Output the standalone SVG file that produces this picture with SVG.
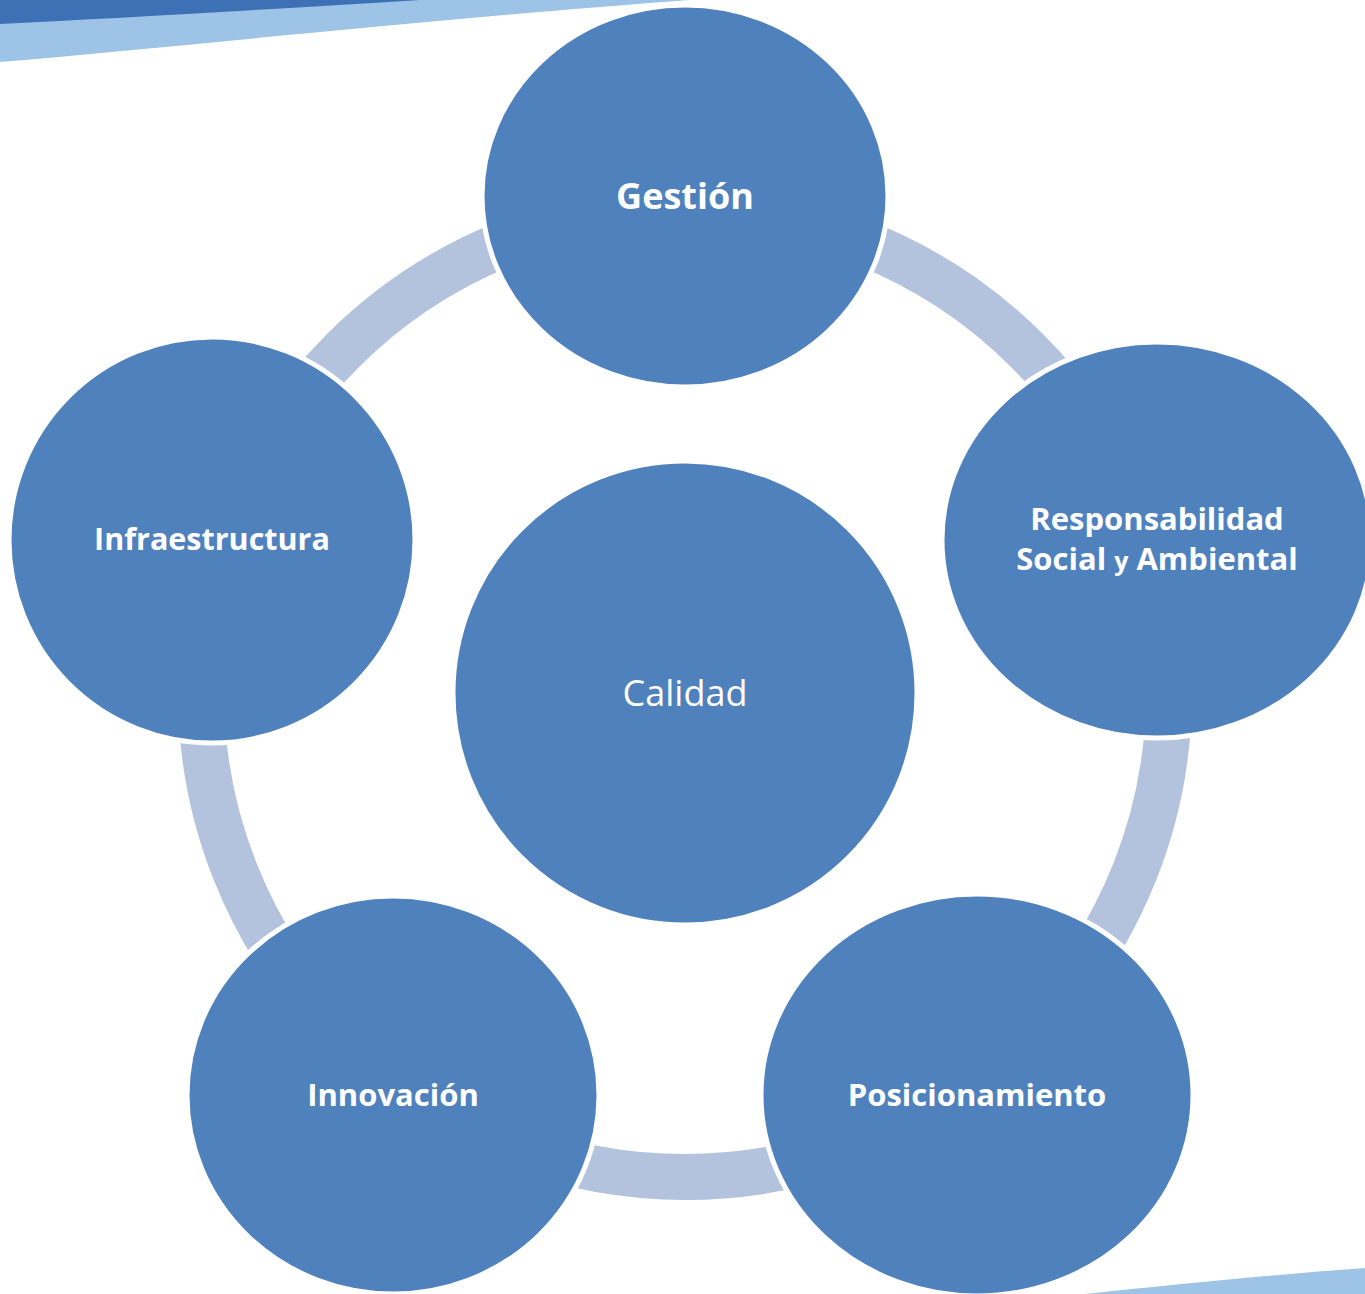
<svg xmlns="http://www.w3.org/2000/svg" width="1365" height="1294" viewBox="0 0 1365 1294">
<style>
.node{fill:#4F81BD;stroke:#FFFFFF;stroke-width:5}
.lbl{fill:#FFFFFF;font-family:"Open Sans","Liberation Sans",sans-serif;font-weight:bold;text-anchor:middle}
.reg{fill:#FFFFFF;font-family:"Open Sans","Liberation Sans",sans-serif;font-size:36px;text-anchor:middle}
</style>
<rect width="1365" height="1294" fill="#FFFFFF"/>
<g id="decor">
<path d="M0,0 L690,0 C420,20 200,45 0,62 Z" fill="#9DC3E6"/>
<path d="M0,0 L420,0 C260,10 120,18 0,24 Z" fill="#3E70B6"/>
<path d="M1085,1294 C1180,1284 1280,1274 1365,1268 L1365,1294 Z" fill="#9DC3E6"/>
</g>
<g id="connectors">
<circle cx="685" cy="693" r="484" fill="none" stroke="#B3C2DD" stroke-width="46"/>
</g>
<g id="node-gestion">
<ellipse class="node" cx="685" cy="196" rx="203" ry="191"/>
<text class="lbl" x="685" y="209" font-size="36">Gestión</text>
</g>
<g id="node-responsabilidad">
<ellipse class="node" cx="1157" cy="540" rx="215" ry="198"/>
<text class="lbl" x="1157" y="530" font-size="31">Responsabilidad</text>
<text class="lbl" x="1157" y="570" font-size="31">Social <tspan font-size="25">y</tspan> Ambiental</text>
</g>
<g id="node-infraestructura">
<ellipse class="node" cx="212" cy="540" rx="203" ry="203"/>
<text class="lbl" x="212" y="550" font-size="30.5">Infraestructura</text>
</g>
<g id="node-calidad">
<circle class="node" cx="685" cy="693" r="232"/>
<text class="reg" x="685" y="706">Calidad</text>
</g>
<g id="node-innovacion">
<ellipse class="node" cx="393" cy="1095" rx="206" ry="199"/>
<text class="lbl" x="393" y="1106" font-size="31">Innovación</text>
</g>
<g id="node-posicionamiento">
<ellipse class="node" cx="977" cy="1095" rx="216" ry="201"/>
<text class="lbl" x="977" y="1106" font-size="31">Posicionamiento</text>
</g>
</svg>
